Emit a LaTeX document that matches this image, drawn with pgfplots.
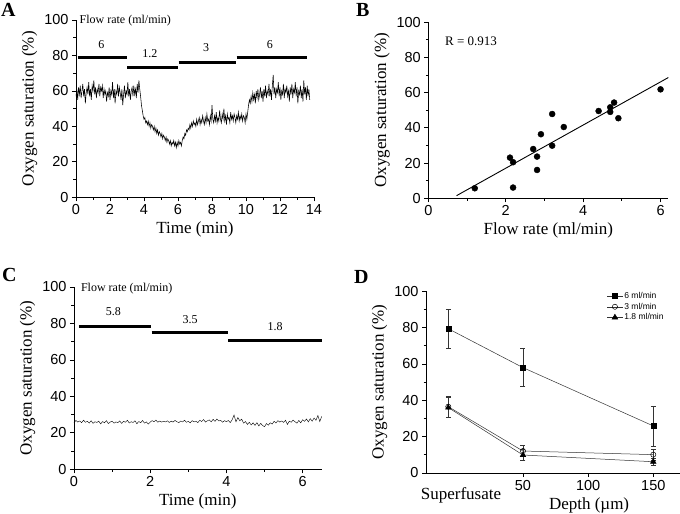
\documentclass[border=0pt]{standalone}
\usepackage{fontspec}
\setmainfont{Liberation Serif}
\setsansfont{Liberation Sans}
\usepackage{pgfplots}
\pgfplotsset{compat=1.18}

\pgfplotsset{
  panel/.style={
    scale only axis,
    axis lines*=left,
    tick align=outside,
    ymin=0, ymax=100,
    ytick={0,20,...,100},
    minor y tick num=1,
    major tick length=4pt,
    minor tick length=2.5pt,
    axis line style={line width=0.8pt},
    every tick/.append style={line width=0.8pt, black},
    every minor tick/.append style={line width=0.8pt, black},
    tick label style={font=\sffamily\fontsize{14.5}{14.5}\selectfont},
    label style={font=\fontsize{17}{17}\selectfont},
    ylabel={Oxygen saturation (\%)},
    /pgf/number format/assume math mode=true,
    clip=false,
  },
}
\tikzset{
  flowbar/.style={line width=3pt, black},
  flowtxt/.style={font=\fontsize{12}{12}\selectfont},
}

\begin{document}
\begin{tikzpicture}
\useasboundingbox (0,0) rectangle (680pt,514pt);

% ---------- A ----------
\begin{axis}[panel,
  at={(76pt,316.7pt)}, anchor=south west,
  width=238pt, height=177.3pt,
  xmin=0, xmax=14, xtick={0,2,...,14}, minor x tick num=1,
  xlabel={Time (min)},
]
\addplot[black, line width=0.55pt] coordinates {
(0.00,57)(0.05,61)(0.10,55)(0.15,62)(0.20,58)(0.25,63)(0.30,56)(0.35,60)(0.40,64)(0.45,57)
(0.50,61)(0.55,53)(0.60,59)(0.65,62)(0.70,58)(0.75,65)(0.80,57)(0.85,61)(0.90,55)(0.95,63)
(1.00,60)(1.05,66)(1.10,58)(1.15,62)(1.20,56)(1.25,61)(1.30,59)(1.35,64)(1.40,57)(1.45,62)
(1.50,60)(1.55,63)(1.60,56)(1.65,61)(1.70,58)(1.75,60)(1.80,54)(1.85,59)(1.90,57)(1.95,62)
(2.00,55)(2.05,60)(2.10,58)(2.15,65)(2.20,56)(2.25,61)(2.30,53)(2.35,60)(2.40,58)(2.45,64)
(2.50,57)(2.55,62)(2.60,59)(2.65,55)(2.70,61)(2.75,52)(2.80,58)(2.85,63)(2.90,56)(2.95,60)
(3.00,58)(3.05,65)(3.10,57)(3.15,61)(3.20,55)(3.25,60)(3.30,62)(3.35,57)(3.40,63)(3.45,58)
(3.50,61)(3.55,56)(3.60,64)(3.65,59)(3.70,66)(3.75,61)
(3.80,57)(3.85,52)(3.90,49)(3.95,46)(4.00,44)(4.05,45)(4.10,42)(4.15,43)(4.20,41)(4.25,43)
(4.30,40)(4.35,42)(4.40,39)(4.45,41)(4.50,40)(4.55,38)(4.60,40)(4.65,37)(4.70,39)(4.75,36)
(4.80,38)(4.85,35)(4.90,37)(4.95,36)(5.00,34)(5.05,36)(5.10,33)(5.15,35)(5.20,34)(5.25,32)
(5.30,34)(5.35,31)(5.40,33)(5.45,32)(5.50,30)(5.55,32)(5.60,29)(5.65,31)(5.70,30)(5.75,32)
(5.80,29)(5.85,31)(5.90,28)(5.95,31)(6.00,29)(6.05,32)(6.10,30)(6.15,31)(6.20,29)(6.25,32)
(6.30,34)(6.35,33)(6.40,36)(6.45,35)(6.50,38)(6.55,37)(6.60,39)(6.65,38)(6.70,41)(6.75,39)
(6.80,42)(6.85,40)(6.90,43)(6.95,41)
(7.00,42)(7.05,40)(7.10,44)(7.15,41)(7.20,43)(7.25,45)(7.30,41)(7.35,44)(7.40,42)(7.45,46)
(7.50,43)(7.55,41)(7.60,45)(7.65,42)(7.70,47)(7.75,43)(7.80,44)(7.85,41)(7.90,46)(7.95,43)
(8.00,52)(8.05,44)(8.10,42)(8.15,46)(8.20,43)(8.25,48)(8.30,42)(8.35,45)(8.40,43)(8.45,49)
(8.50,44)(8.55,42)(8.60,47)(8.65,44)(8.70,50)(8.75,43)(8.80,46)(8.85,41)(8.90,47)(8.95,44)
(9.00,45)(9.05,42)(9.10,48)(9.15,44)(9.20,46)(9.25,43)(9.30,47)(9.35,45)(9.40,42)(9.45,46)
(9.50,44)(9.55,48)(9.60,43)(9.65,46)(9.70,44)(9.75,47)(9.80,43)(9.85,46)(9.90,45)(9.95,42)
(10.00,47)(10.05,44)
(10.10,48)(10.15,52)(10.20,55)(10.25,53)(10.30,57)(10.35,54)(10.40,59)(10.45,55)(10.50,58)(10.55,53)
(10.60,60)(10.65,56)(10.70,61)(10.75,55)(10.80,58)(10.85,62)(10.90,56)(10.95,60)(11.00,54)(11.05,61)
(11.10,57)(11.15,63)(11.20,56)(11.25,60)(11.30,58)(11.35,64)(11.40,57)(11.45,61)(11.50,55)(11.55,63)
(11.60,69)(11.65,58)(11.70,62)(11.75,56)(11.80,61)(11.85,59)(11.90,65)(11.95,57)(12.00,62)(12.05,55)
(12.10,60)(12.15,58)(12.20,64)(12.25,56)(12.30,61)(12.35,59)(12.40,63)(12.45,57)(12.50,60)(12.55,54)
(12.60,62)(12.65,58)(12.70,64)(12.75,56)(12.80,61)(12.85,59)(12.90,65)(12.95,57)(13.00,62)(13.05,53)
(13.10,60)(13.15,58)(13.20,63)(13.25,56)(13.30,61)(13.35,54)(13.40,66)(13.45,58)(13.50,62)(13.55,55)
(13.60,63)(13.65,57)(13.70,61)(13.75,55)
};
\addplot[flowbar] coordinates {(0.10,79) (2.98,79)};
\addplot[flowbar] coordinates {(3.02,73) (5.98,73)};
\addplot[flowbar] coordinates {(6.04,76.3) (9.41,76.3)};
\addplot[flowbar] coordinates {(9.45,79) (13.57,79)};
\node[flowtxt] at (axis cs:1.5,86.2) {6};
\node[flowtxt] at (axis cs:4.35,81) {1.2};
\node[flowtxt] at (axis cs:7.65,84.2) {3};
\node[flowtxt] at (axis cs:11.4,86.4) {6};
\node[flowtxt, anchor=west, inner sep=0pt] at (axis cs:0.2,99.6) {Flow rate (ml/min)};
\end{axis}

% ---------- B ----------
\begin{axis}[panel,
  at={(428.3pt,315.7pt)}, anchor=south west,
  width=240pt, height=176pt,
  xmin=0, xmax=6.2, xtick={0,2,4,6}, minor x tick num=1,
  xlabel={Flow rate (ml/min)},
]
\addplot[only marks, mark=*, mark size=3pt, black] coordinates {
(1.20,5.7)(2.11,23.1)(2.19,20.5)(2.19,6.1)(2.71,28.0)(2.81,23.7)(2.81,16.1)(2.91,36.4)
(3.20,47.9)(3.20,29.9)(3.50,40.5)(4.40,49.6)(4.70,49.1)(4.70,51.7)(4.80,54.4)(4.91,45.5)(6.00,61.9)
};
\addplot[black, line width=0.9pt] coordinates {(0.73,1.5) (6.2,68.6)};
\node[anchor=west, inner sep=0pt, font=\fontsize{13}{13}\selectfont] at (axis cs:0.43,89.4) {R = 0.913};
\end{axis}

% ---------- C ----------
\begin{axis}[panel,
  at={(74pt,44.7pt)}, anchor=south west,
  width=247.7pt, height=182.3pt,
  xmin=0, xmax=6.5, xtick={0,2,4,6}, minor x tick num=1,
  xlabel={Time (min)},
]
\addplot[black, line width=0.4pt] coordinates {
(0.00,25.5)(0.05,26.8)(0.10,25.9)(0.15,26.5)(0.20,25.6)(0.25,26.9)(0.30,25.8)(0.35,26.3)(0.40,25.4)(0.45,26.6)
(0.50,25.2)(0.55,26.1)(0.60,25.7)(0.65,26.4)(0.70,24.9)(0.75,26.2)(0.80,25.5)(0.85,26.7)(0.90,25.1)(0.95,25.9)
(1.00,26.4)(1.05,25.3)(1.10,26.0)(1.15,25.6)(1.20,26.5)(1.25,25.2)(1.30,26.3)(1.35,25.8)(1.40,26.9)(1.45,25.4)
(1.50,26.1)(1.55,25.7)(1.60,26.6)(1.65,25.0)(1.70,26.2)(1.75,25.6)(1.80,26.8)(1.85,25.3)(1.90,26.0)(1.95,24.8)
(2.00,25.9)(2.05,26.7)(2.10,26.1)(2.15,27.0)(2.20,25.8)(2.25,26.5)(2.30,25.9)(2.35,26.3)(2.40,26.0)(2.45,26.6)
(2.50,25.7)(2.55,26.4)(2.60,25.9)(2.65,26.8)(2.70,26.1)(2.75,25.6)(2.80,26.5)(2.85,26.0)(2.90,26.9)(2.95,25.8)
(3.00,26.3)(3.05,25.5)(3.10,26.7)(3.15,26.0)(3.20,26.4)(3.25,25.6)(3.30,26.9)(3.35,26.2)(3.40,27.3)(3.45,25.9)
(3.50,26.6)(3.55,27.1)(3.60,26.0)(3.65,27.4)(3.70,26.3)(3.75,27.6)(3.80,26.5)(3.85,26.9)(3.90,25.8)(3.95,26.7)
(4.00,26.1)(4.05,26.8)(4.10,25.6)(4.15,27.2)(4.20,29.8)(4.25,26.0)(4.30,28.4)(4.35,26.6)(4.40,27.5)(4.45,25.3)
(4.50,26.2)(4.55,24.6)(4.60,25.8)(4.65,24.3)(4.70,25.5)(4.75,24.1)(4.80,25.6)(4.85,23.8)(4.90,25.2)(4.95,24.0)
(5.00,23.4)(5.05,25.1)(5.10,24.2)(5.15,25.5)(5.20,24.8)(5.25,26.3)(5.30,25.4)(5.35,26.7)(5.40,25.9)(5.45,26.5)
(5.50,25.7)(5.55,26.9)(5.60,24.6)(5.65,26.4)(5.70,25.8)(5.75,27.0)(5.80,26.1)(5.85,25.3)(5.90,26.8)(5.95,25.5)
(6.00,27.2)(6.05,26.3)(6.10,27.6)(6.15,26.0)(6.20,27.8)(6.25,26.4)(6.30,28.1)(6.35,26.9)(6.40,29.5)(6.45,26.2)
(6.50,29.0)
};
\addplot[flowbar] coordinates {(0.13,78.6) (2.01,78.6)};
\addplot[flowbar] coordinates {(2.04,74.8) (4.03,74.8)};
\addplot[flowbar] coordinates {(4.05,70.9) (6.50,70.9)};
\node[flowtxt] at (axis cs:1.03,86.3) {5.8};
\node[flowtxt] at (axis cs:3.05,82.1) {3.5};
\node[flowtxt] at (axis cs:5.28,78.1) {1.8};
\node[flowtxt, anchor=west, inner sep=0pt] at (axis cs:0.18,99) {Flow rate (ml/min)};
\end{axis}

% ---------- D ----------
\begin{axis}[panel,
  at={(426pt,41pt)}, anchor=south west,
  width=254pt, height=181.7pt,
  xmin=-24.4, xmax=170.5, xtick={50,100,150},
  xlabel={Depth (µm)},
  xlabel style={at={(ticklabel cs:0.642)}},
  legend style={draw=none, fill=none, at={(0.70,1.015)}, anchor=north west,
    font=\sffamily\fontsize{8.5}{8.5}\selectfont, row sep=0pt,
    nodes={inner sep=1.5pt}},
  legend cell align=left,
  legend image code/.code={\draw[mark repeat=2,mark phase=2] plot coordinates {(0cm,0cm)(0.27cm,0cm)(0.54cm,0cm)};},
  every axis plot/.append style={black!80, line width=0.5pt},
  error bars/error bar style={line width=0.5pt, black!80},
  error bars/error mark options={rotate=90, mark size=2.5pt, line width=0.5pt, black!80},
]
\addplot[mark=square*, mark size=2.5pt, mark options={fill=black, draw=black},
  error bars/.cd, y dir=both, y explicit] coordinates {
(-7.3,79.4) +- (0,10.5)
(50,58.0) +- (0,10.5)
(150,25.9) +- (0,11)
};
\addlegendentry{6 ml/min}
\addplot[mark=o, mark size=2.6pt, mark options={fill=white, draw=black},
  error bars/.cd, y dir=both, y explicit] coordinates {
(-7.3,36.5) +- (0,5.7)
(50,12.1) +- (0,3.1)
(150,10.1) +- (0,2.9)
};
\addlegendentry{3 ml/min}
\addplot[mark=triangle*, mark size=3.2pt, mark options={fill=black, draw=black},
  error bars/.cd, y dir=both, y explicit] coordinates {
(-7.3,36.0) +- (0,5.5)
(50,9.9) +- (0,2.9)
(150,6.2) +- (0,2)
};
\addlegendentry{1.8 ml/min}
\end{axis}

\node[anchor=base, font=\fontsize{17}{17}\selectfont] at (461pt,14pt) {Superfusate};

% panel letters
\node[anchor=base west, inner sep=0pt, font=\bfseries\fontsize{20}{20}\selectfont] at (1pt,497pt) {A};
\node[anchor=base west, inner sep=0pt, font=\bfseries\fontsize{20}{20}\selectfont] at (356pt,497pt) {B};
\node[anchor=base west, inner sep=0pt, font=\bfseries\fontsize{20}{20}\selectfont] at (2pt,232pt) {C};
\node[anchor=base west, inner sep=0pt, font=\bfseries\fontsize{20}{20}\selectfont] at (354pt,230pt) {D};
\end{tikzpicture}
\end{document}
